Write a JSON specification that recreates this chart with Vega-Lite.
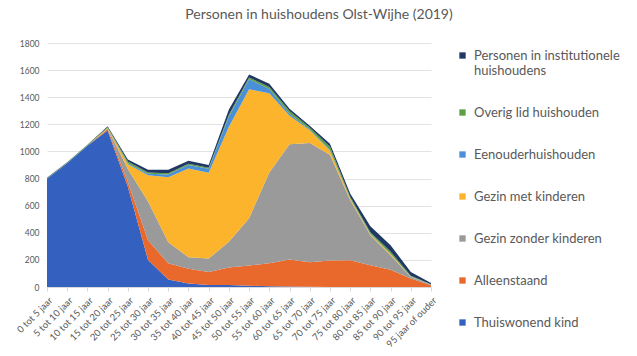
{
  "$schema": "https://vega.github.io/schema/vega-lite/v6.json",
  "width": 384,
  "height": 244,
  "autosize": {"type": "none"},
  "padding": {"left": 47, "top": 43, "right": 206, "bottom": 69},
  "background": "white",
  "title": {
    "text": "Personen in huishoudens Olst-Wijhe (2019)",
    "font": "Lato",
    "fontSize": 14,
    "fontWeight": "normal",
    "color": "#595959",
    "anchor": "middle",
    "frame": "group",
    "dx": 80,
    "offset": 17
  },
  "config": {
    "view": {"stroke": null},
    "font": "Lato"
  },
  "data": {
    "values": [
      {"leeftijd": "0 tot 5 jaar", "type": "Thuiswonend kind", "personen": 798},
      {"leeftijd": "0 tot 5 jaar", "type": "Alleenstaand", "personen": 0},
      {"leeftijd": "0 tot 5 jaar", "type": "Gezin zonder kinderen", "personen": 0},
      {"leeftijd": "0 tot 5 jaar", "type": "Gezin met kinderen", "personen": 0},
      {"leeftijd": "0 tot 5 jaar", "type": "Eenouderhuishouden", "personen": 0},
      {"leeftijd": "0 tot 5 jaar", "type": "Overig lid huishouden", "personen": 5},
      {"leeftijd": "0 tot 5 jaar", "type": "Personen in institutionele huishoudens", "personen": 3},
      {"leeftijd": "5 tot 10 jaar", "type": "Thuiswonend kind", "personen": 912},
      {"leeftijd": "5 tot 10 jaar", "type": "Alleenstaand", "personen": 0},
      {"leeftijd": "5 tot 10 jaar", "type": "Gezin zonder kinderen", "personen": 0},
      {"leeftijd": "5 tot 10 jaar", "type": "Gezin met kinderen", "personen": 0},
      {"leeftijd": "5 tot 10 jaar", "type": "Eenouderhuishouden", "personen": 0},
      {"leeftijd": "5 tot 10 jaar", "type": "Overig lid huishouden", "personen": 5},
      {"leeftijd": "5 tot 10 jaar", "type": "Personen in institutionele huishoudens", "personen": 3},
      {"leeftijd": "10 tot 15 jaar", "type": "Thuiswonend kind", "personen": 1042},
      {"leeftijd": "10 tot 15 jaar", "type": "Alleenstaand", "personen": 0},
      {"leeftijd": "10 tot 15 jaar", "type": "Gezin zonder kinderen", "personen": 0},
      {"leeftijd": "10 tot 15 jaar", "type": "Gezin met kinderen", "personen": 0},
      {"leeftijd": "10 tot 15 jaar", "type": "Eenouderhuishouden", "personen": 0},
      {"leeftijd": "10 tot 15 jaar", "type": "Overig lid huishouden", "personen": 5},
      {"leeftijd": "10 tot 15 jaar", "type": "Personen in institutionele huishoudens", "personen": 3},
      {"leeftijd": "15 tot 20 jaar", "type": "Thuiswonend kind", "personen": 1155},
      {"leeftijd": "15 tot 20 jaar", "type": "Alleenstaand", "personen": 10},
      {"leeftijd": "15 tot 20 jaar", "type": "Gezin zonder kinderen", "personen": 5},
      {"leeftijd": "15 tot 20 jaar", "type": "Gezin met kinderen", "personen": 3},
      {"leeftijd": "15 tot 20 jaar", "type": "Eenouderhuishouden", "personen": 0},
      {"leeftijd": "15 tot 20 jaar", "type": "Overig lid huishouden", "personen": 8},
      {"leeftijd": "15 tot 20 jaar", "type": "Personen in institutionele huishoudens", "personen": 4},
      {"leeftijd": "20 tot 25 jaar", "type": "Thuiswonend kind", "personen": 740},
      {"leeftijd": "20 tot 25 jaar", "type": "Alleenstaand", "personen": 35},
      {"leeftijd": "20 tot 25 jaar", "type": "Gezin zonder kinderen", "personen": 95},
      {"leeftijd": "20 tot 25 jaar", "type": "Gezin met kinderen", "personen": 35},
      {"leeftijd": "20 tot 25 jaar", "type": "Eenouderhuishouden", "personen": 8},
      {"leeftijd": "20 tot 25 jaar", "type": "Overig lid huishouden", "personen": 12},
      {"leeftijd": "20 tot 25 jaar", "type": "Personen in institutionele huishoudens", "personen": 15},
      {"leeftijd": "25 tot 30 jaar", "type": "Thuiswonend kind", "personen": 200},
      {"leeftijd": "25 tot 30 jaar", "type": "Alleenstaand", "personen": 145},
      {"leeftijd": "25 tot 30 jaar", "type": "Gezin zonder kinderen", "personen": 285},
      {"leeftijd": "25 tot 30 jaar", "type": "Gezin met kinderen", "personen": 195},
      {"leeftijd": "25 tot 30 jaar", "type": "Eenouderhuishouden", "personen": 10},
      {"leeftijd": "25 tot 30 jaar", "type": "Overig lid huishouden", "personen": 10},
      {"leeftijd": "25 tot 30 jaar", "type": "Personen in institutionele huishoudens", "personen": 20},
      {"leeftijd": "30 tot 35 jaar", "type": "Thuiswonend kind", "personen": 55},
      {"leeftijd": "30 tot 35 jaar", "type": "Alleenstaand", "personen": 120},
      {"leeftijd": "30 tot 35 jaar", "type": "Gezin zonder kinderen", "personen": 155},
      {"leeftijd": "30 tot 35 jaar", "type": "Gezin met kinderen", "personen": 480},
      {"leeftijd": "30 tot 35 jaar", "type": "Eenouderhuishouden", "personen": 20},
      {"leeftijd": "30 tot 35 jaar", "type": "Overig lid huishouden", "personen": 10},
      {"leeftijd": "30 tot 35 jaar", "type": "Personen in institutionele huishoudens", "personen": 25},
      {"leeftijd": "35 tot 40 jaar", "type": "Thuiswonend kind", "personen": 25},
      {"leeftijd": "35 tot 40 jaar", "type": "Alleenstaand", "personen": 110},
      {"leeftijd": "35 tot 40 jaar", "type": "Gezin zonder kinderen", "personen": 85},
      {"leeftijd": "35 tot 40 jaar", "type": "Gezin met kinderen", "personen": 655},
      {"leeftijd": "35 tot 40 jaar", "type": "Eenouderhuishouden", "personen": 25},
      {"leeftijd": "35 tot 40 jaar", "type": "Overig lid huishouden", "personen": 10},
      {"leeftijd": "35 tot 40 jaar", "type": "Personen in institutionele huishoudens", "personen": 22},
      {"leeftijd": "40 tot 45 jaar", "type": "Thuiswonend kind", "personen": 15},
      {"leeftijd": "40 tot 45 jaar", "type": "Alleenstaand", "personen": 95},
      {"leeftijd": "40 tot 45 jaar", "type": "Gezin zonder kinderen", "personen": 100},
      {"leeftijd": "40 tot 45 jaar", "type": "Gezin met kinderen", "personen": 633},
      {"leeftijd": "40 tot 45 jaar", "type": "Eenouderhuishouden", "personen": 30},
      {"leeftijd": "40 tot 45 jaar", "type": "Overig lid huishouden", "personen": 7},
      {"leeftijd": "40 tot 45 jaar", "type": "Personen in institutionele huishoudens", "personen": 20},
      {"leeftijd": "45 tot 50 jaar", "type": "Thuiswonend kind", "personen": 15},
      {"leeftijd": "45 tot 50 jaar", "type": "Alleenstaand", "personen": 128},
      {"leeftijd": "45 tot 50 jaar", "type": "Gezin zonder kinderen", "personen": 190},
      {"leeftijd": "45 tot 50 jaar", "type": "Gezin met kinderen", "personen": 850},
      {"leeftijd": "45 tot 50 jaar", "type": "Eenouderhuishouden", "personen": 75},
      {"leeftijd": "45 tot 50 jaar", "type": "Overig lid huishouden", "personen": 12},
      {"leeftijd": "45 tot 50 jaar", "type": "Personen in institutionele huishoudens", "personen": 40},
      {"leeftijd": "50 tot 55 jaar", "type": "Thuiswonend kind", "personen": 10},
      {"leeftijd": "50 tot 55 jaar", "type": "Alleenstaand", "personen": 148},
      {"leeftijd": "50 tot 55 jaar", "type": "Gezin zonder kinderen", "personen": 350},
      {"leeftijd": "50 tot 55 jaar", "type": "Gezin met kinderen", "personen": 950},
      {"leeftijd": "50 tot 55 jaar", "type": "Eenouderhuishouden", "personen": 75},
      {"leeftijd": "50 tot 55 jaar", "type": "Overig lid huishouden", "personen": 12},
      {"leeftijd": "50 tot 55 jaar", "type": "Personen in institutionele huishoudens", "personen": 23},
      {"leeftijd": "55 tot 60 jaar", "type": "Thuiswonend kind", "personen": 5},
      {"leeftijd": "55 tot 60 jaar", "type": "Alleenstaand", "personen": 170},
      {"leeftijd": "55 tot 60 jaar", "type": "Gezin zonder kinderen", "personen": 670},
      {"leeftijd": "55 tot 60 jaar", "type": "Gezin met kinderen", "personen": 585},
      {"leeftijd": "55 tot 60 jaar", "type": "Eenouderhuishouden", "personen": 30},
      {"leeftijd": "55 tot 60 jaar", "type": "Overig lid huishouden", "personen": 15},
      {"leeftijd": "55 tot 60 jaar", "type": "Personen in institutionele huishoudens", "personen": 25},
      {"leeftijd": "60 tot 65 jaar", "type": "Thuiswonend kind", "personen": 3},
      {"leeftijd": "60 tot 65 jaar", "type": "Alleenstaand", "personen": 200},
      {"leeftijd": "60 tot 65 jaar", "type": "Gezin zonder kinderen", "personen": 850},
      {"leeftijd": "60 tot 65 jaar", "type": "Gezin met kinderen", "personen": 210},
      {"leeftijd": "60 tot 65 jaar", "type": "Eenouderhuishouden", "personen": 15},
      {"leeftijd": "60 tot 65 jaar", "type": "Overig lid huishouden", "personen": 20},
      {"leeftijd": "60 tot 65 jaar", "type": "Personen in institutionele huishoudens", "personen": 17},
      {"leeftijd": "65 tot 70 jaar", "type": "Thuiswonend kind", "personen": 2},
      {"leeftijd": "65 tot 70 jaar", "type": "Alleenstaand", "personen": 180},
      {"leeftijd": "65 tot 70 jaar", "type": "Gezin zonder kinderen", "personen": 880},
      {"leeftijd": "65 tot 70 jaar", "type": "Gezin met kinderen", "personen": 95},
      {"leeftijd": "65 tot 70 jaar", "type": "Eenouderhuishouden", "personen": 5},
      {"leeftijd": "65 tot 70 jaar", "type": "Overig lid huishouden", "personen": 15},
      {"leeftijd": "65 tot 70 jaar", "type": "Personen in institutionele huishoudens", "personen": 13},
      {"leeftijd": "70 tot 75 jaar", "type": "Thuiswonend kind", "personen": 0},
      {"leeftijd": "70 tot 75 jaar", "type": "Alleenstaand", "personen": 195},
      {"leeftijd": "70 tot 75 jaar", "type": "Gezin zonder kinderen", "personen": 780},
      {"leeftijd": "70 tot 75 jaar", "type": "Gezin met kinderen", "personen": 30},
      {"leeftijd": "70 tot 75 jaar", "type": "Eenouderhuishouden", "personen": 5},
      {"leeftijd": "70 tot 75 jaar", "type": "Overig lid huishouden", "personen": 25},
      {"leeftijd": "70 tot 75 jaar", "type": "Personen in institutionele huishoudens", "personen": 22},
      {"leeftijd": "75 tot 80 jaar", "type": "Thuiswonend kind", "personen": 0},
      {"leeftijd": "75 tot 80 jaar", "type": "Alleenstaand", "personen": 197},
      {"leeftijd": "75 tot 80 jaar", "type": "Gezin zonder kinderen", "personen": 445},
      {"leeftijd": "75 tot 80 jaar", "type": "Gezin met kinderen", "personen": 10},
      {"leeftijd": "75 tot 80 jaar", "type": "Eenouderhuishouden", "personen": 3},
      {"leeftijd": "75 tot 80 jaar", "type": "Overig lid huishouden", "personen": 10},
      {"leeftijd": "75 tot 80 jaar", "type": "Personen in institutionele huishoudens", "personen": 25},
      {"leeftijd": "80 tot 85 jaar", "type": "Thuiswonend kind", "personen": 0},
      {"leeftijd": "80 tot 85 jaar", "type": "Alleenstaand", "personen": 160},
      {"leeftijd": "80 tot 85 jaar", "type": "Gezin zonder kinderen", "personen": 222},
      {"leeftijd": "80 tot 85 jaar", "type": "Gezin met kinderen", "personen": 8},
      {"leeftijd": "80 tot 85 jaar", "type": "Eenouderhuishouden", "personen": 2},
      {"leeftijd": "80 tot 85 jaar", "type": "Overig lid huishouden", "personen": 12},
      {"leeftijd": "80 tot 85 jaar", "type": "Personen in institutionele huishoudens", "personen": 45},
      {"leeftijd": "85 tot 90 jaar", "type": "Thuiswonend kind", "personen": 0},
      {"leeftijd": "85 tot 90 jaar", "type": "Alleenstaand", "personen": 128},
      {"leeftijd": "85 tot 90 jaar", "type": "Gezin zonder kinderen", "personen": 106},
      {"leeftijd": "85 tot 90 jaar", "type": "Gezin met kinderen", "personen": 10},
      {"leeftijd": "85 tot 90 jaar", "type": "Eenouderhuishouden", "personen": 2},
      {"leeftijd": "85 tot 90 jaar", "type": "Overig lid huishouden", "personen": 15},
      {"leeftijd": "85 tot 90 jaar", "type": "Personen in institutionele huishoudens", "personen": 47},
      {"leeftijd": "90 tot 95 jaar", "type": "Thuiswonend kind", "personen": 0},
      {"leeftijd": "90 tot 95 jaar", "type": "Alleenstaand", "personen": 62},
      {"leeftijd": "90 tot 95 jaar", "type": "Gezin zonder kinderen", "personen": 12},
      {"leeftijd": "90 tot 95 jaar", "type": "Gezin met kinderen", "personen": 2},
      {"leeftijd": "90 tot 95 jaar", "type": "Eenouderhuishouden", "personen": 1},
      {"leeftijd": "90 tot 95 jaar", "type": "Overig lid huishouden", "personen": 6},
      {"leeftijd": "90 tot 95 jaar", "type": "Personen in institutionele huishoudens", "personen": 28},
      {"leeftijd": "95 jaar of ouder", "type": "Thuiswonend kind", "personen": 0},
      {"leeftijd": "95 jaar of ouder", "type": "Alleenstaand", "personen": 12},
      {"leeftijd": "95 jaar of ouder", "type": "Gezin zonder kinderen", "personen": 6},
      {"leeftijd": "95 jaar of ouder", "type": "Gezin met kinderen", "personen": 0},
      {"leeftijd": "95 jaar of ouder", "type": "Eenouderhuishouden", "personen": 0},
      {"leeftijd": "95 jaar of ouder", "type": "Overig lid huishouden", "personen": 2},
      {"leeftijd": "95 jaar of ouder", "type": "Personen in institutionele huishoudens", "personen": 10}
    ]
  },
  "transform": [
    {"calculate": "indexof(['Thuiswonend kind','Alleenstaand','Gezin zonder kinderen','Gezin met kinderen','Eenouderhuishouden','Overig lid huishouden','Personen in institutionele huishoudens'], datum.type)", "as": "volgorde"}
  ],
  "mark": {"type": "area", "interpolate": "linear"},
  "encoding": {
    "x": {
      "field": "leeftijd",
      "type": "ordinal",
      "sort": null,
      "scale": {"type": "point", "padding": 0},
      "axis": {
        "title": null,
        "labelAngle": -45,
        "labelFontSize": 9.5,
        "labelColor": "#595959",
        "labelPadding": 4,
        "domainColor": "#d9d9d9",
        "tickColor": "#d9d9d9",
        "tickSize": 4,
        "grid": false
      }
    },
    "y": {
      "field": "personen",
      "type": "quantitative",
      "stack": "zero",
      "scale": {"domain": [0, 1800], "nice": false},
      "axis": {
        "title": null,
        "values": [0, 200, 400, 600, 800, 1000, 1200, 1400, 1600, 1800],
        "format": "d",
        "labelFontSize": 8.5,
        "labelColor": "#595959",
        "labelPadding": 8,
        "domain": false,
        "ticks": false,
        "gridColor": "#e3e3e3",
        "gridWidth": 1
      }
    },
    "order": {"field": "volgorde", "type": "quantitative", "sort": "ascending"},
    "color": {
      "field": "type",
      "type": "nominal",
      "scale": {
        "domain": ["Personen in institutionele huishoudens", "Overig lid huishouden", "Eenouderhuishouden", "Gezin met kinderen", "Gezin zonder kinderen", "Alleenstaand", "Thuiswonend kind"],
        "range": ["#1f3864", "#5da044", "#4a90d9", "#fbb42b", "#9a9a9a", "#e9692c", "#3461bf"]
      },
      "legend": {
        "title": null,
        "orient": "none",
        "legendX": 409,
        "legendY": 6,
        "symbolType": "square",
        "symbolSize": 40,
        "symbolStrokeWidth": 0,
        "labelFontSize": 13,
        "labelColor": "#595959",
        "labelLimit": 200,
        "rowPadding": 28,
        "labelOffset": 5,
        "labelExpr": "datum.label == 'Personen in institutionele huishoudens' ? ['Personen in institutionele', 'huishoudens'] : datum.label"
      }
    }
  }
}
